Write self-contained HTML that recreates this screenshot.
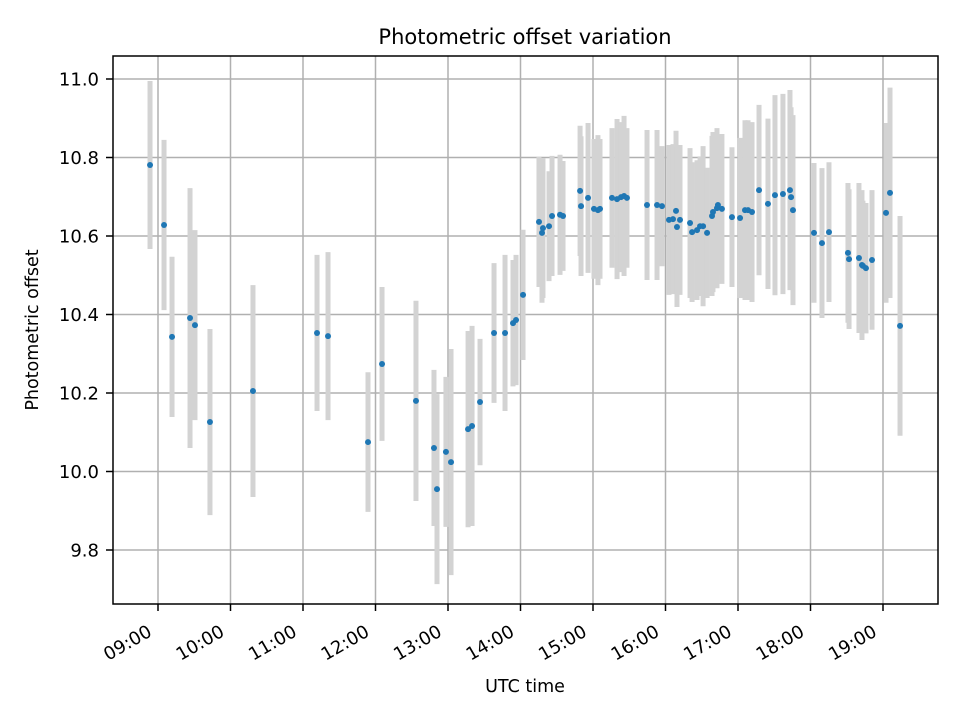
<!DOCTYPE html>
<html><head><meta charset="utf-8"><style>
body{margin:0;background:#fff;}
svg{display:block;font-family:"DejaVu Sans","Liberation Sans",sans-serif;}
</style></head><body>
<svg id="chart" width="960" height="720" viewBox="0 0 960 720" xmlns="http://www.w3.org/2000/svg">
<rect x="0" y="0" width="960" height="720" fill="#fff"/>
<text x="525" y="44" font-size="21" text-anchor="middle">Photometric offset variation</text>
<g id="grid"></g>
<g id="bars"></g>
<g id="pts"></g>
<rect x="113" y="56" width="825" height="548" fill="none" stroke="#000" stroke-width="1.5"/>
<g id="axes"></g>
<text x="525" y="692" font-size="17.5" text-anchor="middle">UTC time</text>
<text x="38" y="330" font-size="17.5" text-anchor="middle" transform="rotate(-90 38 330)">Photometric offset</text>
</svg>
<script>
// minutes since 09:00 UTC
const times=[-6.6,5,11.6,26.5,30.6,43,78.6,131.6,140.7,173.8,185.4,213.5,228.4,230.9,238.3,242.5,256.6,259.9,266.5,278.1,287.2,293.8,296.3,302.1,315.3,317.8,318.6,323.6,326.1,332.7,335.2,349.3,350.1,355.9,360.8,364.1,365.8,375.7,379.9,383.2,385.7,388.1,404.7,413,417.1,422.9,426.2,428.7,429.5,432,440.3,442,446.1,448.6,451.1,454.4,458.5,459.3,462.6,463.4,466.7,475,481.7,485.8,488.3,491.6,497.4,504.8,510.6,517.2,523,523.9,525.5,542.9,549.5,555.3,571,571.9,580.1,582.6,583.4,585.9,590.9,602.5,605.8,614.1];
const values=[10.781,10.628,10.343,10.391,10.373,10.126,10.205,10.353,10.345,10.075,10.274,10.180,10.060,9.955,10.050,10.024,10.108,10.116,10.177,10.353,10.353,10.378,10.386,10.450,10.636,10.608,10.620,10.625,10.651,10.654,10.651,10.715,10.676,10.697,10.669,10.666,10.669,10.697,10.694,10.699,10.702,10.697,10.679,10.679,10.676,10.641,10.643,10.664,10.623,10.641,10.633,10.610,10.615,10.625,10.625,10.608,10.651,10.661,10.671,10.679,10.669,10.648,10.646,10.666,10.666,10.661,10.717,10.682,10.704,10.707,10.717,10.699,10.666,10.608,10.582,10.610,10.557,10.541,10.544,10.526,10.524,10.518,10.539,10.659,10.710,10.371];
const errors=[0.214,0.217,0.204,0.331,0.242,0.237,0.270,0.199,0.214,0.178,0.196,0.255,0.199,0.242,0.191,0.288,0.250,0.255,0.161,0.178,0.199,0.161,0.166,0.166,0.166,0.178,0.178,0.140,0.153,0.153,0.140,0.166,0.178,0.191,0.178,0.191,0.178,0.178,0.204,0.191,0.204,0.178,0.191,0.191,0.153,0.191,0.191,0.204,0.204,0.191,0.191,0.178,0.178,0.178,0.204,0.166,0.204,0.204,0.204,0.178,0.191,0.178,0.204,0.229,0.229,0.229,0.217,0.217,0.255,0.255,0.255,0.229,0.242,0.178,0.191,0.178,0.178,0.178,0.191,0.191,0.166,0.166,0.178,0.229,0.268,0.280];
const yTicks=[9.8,10.0,10.2,10.4,10.6,10.8,11.0];
const yTickLabels=["9.8","10.0","10.2","10.4","10.6","10.8","11.0"];
const xTicks=[0,60,120,180,240,300,360,420,480,540,600];
const xTickLabels=["09:00","10:00","11:00","12:00","13:00","14:00","15:00","16:00","17:00","18:00","19:00"];

const NS="http://www.w3.org/2000/svg";
const X=m=>158+m*72.5/60;
const Y=v=>79+(11-v)*392.5;
function mk(tag,attrs,parent){const e=document.createElementNS(NS,tag);for(const k in attrs)e.setAttribute(k,attrs[k]);parent.appendChild(e);return e;}
const grid=document.getElementById('grid'),bars=document.getElementById('bars'),pts=document.getElementById('pts'),axes=document.getElementById('axes');
yTicks.forEach((v,i)=>{
  const y=Y(v);
  const g=mk('line',{x1:113,x2:938,y1:y,y2:y,stroke:'#b0b0b0','stroke-width':1.5},grid);
  
  
  const t=mk('line',{x1:106,x2:113,y1:y,y2:y,stroke:'#000','stroke-width':1.5},axes);
  
  
  const l=mk('text',{x:99,y:y+6.5,'font-size':18,'text-anchor':'end'},axes);
  l.textContent=yTickLabels[i];
  
  
});
xTicks.forEach((m,i)=>{
  const x=X(m);
  const g=mk('line',{x1:x,x2:x,y1:56,y2:604,stroke:'#b0b0b0','stroke-width':1.5},grid);
  
  
  const t=mk('line',{x1:x,x2:x,y1:604,y2:611,stroke:'#000','stroke-width':1.5},axes);
  
  
  const ax=x-5, ay=635;
  const l=mk('text',{x:ax,y:ay,'font-size':18,'text-anchor':'end',transform:`rotate(-30 ${ax} ${ay})`},axes);
  l.textContent=xTickLabels[i];
  
  
});
times.forEach((m,i)=>{
  const x=X(m);
  const b=mk('line',{x1:x,x2:x,y1:Y(values[i]+errors[i]),y2:Y(values[i]-errors[i]),stroke:'#d3d3d3','stroke-width':5},bars);
  
  
});
times.forEach((m,i)=>{
  const c=mk('circle',{cx:X(m),cy:Y(values[i]),r:3,fill:'#1f77b4'},pts);
  
  
});
</script>
</body></html>
